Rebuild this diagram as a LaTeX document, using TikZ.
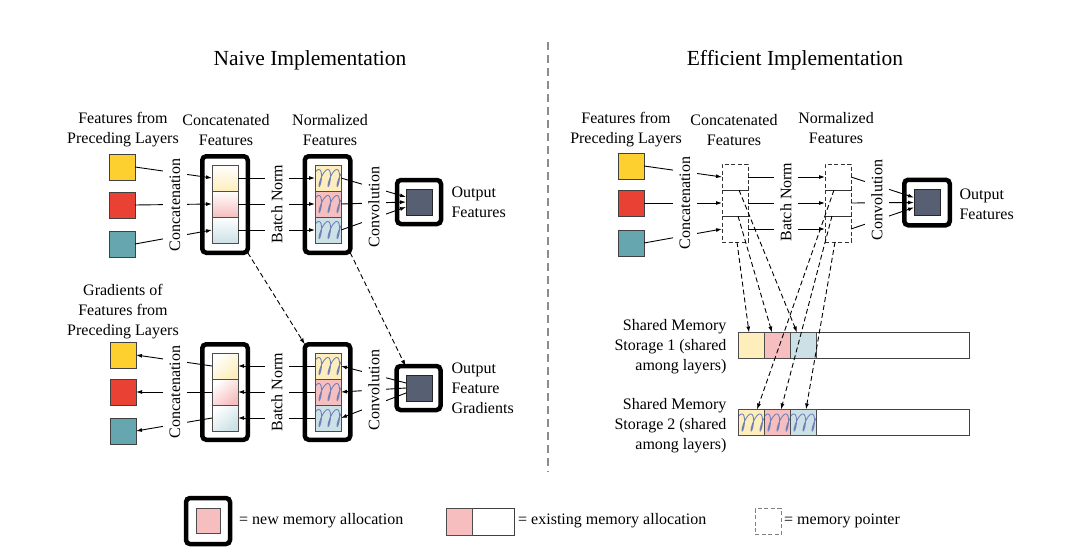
\documentclass[tikz,border=0pt]{standalone}
\usepackage{fontspec}
\setmainfont{Liberation Serif}
\usetikzlibrary{
	positioning,
	arrows.meta,
	calc
}
\definecolor{InYellow}{RGB}{253,208,48}
\definecolor{InRed}{RGB}{233,65,52}
\definecolor{InTeal}{RGB}{102,166,175}
\definecolor{OutSlate}{RGB}{87,96,115}
\definecolor{PaleYellow}{RGB}{253,238,188}
\definecolor{PalePink}{RGB}{246,190,190}
\definecolor{PaleBlue}{RGB}{204,225,230}
\definecolor{Squiggle}{RGB}{112,128,186}

\begin{document}
\begin{tikzpicture}[
	x=1pt, y=-1pt,
	font=\fontsize{16pt}{20pt}\selectfont,
	sq/.style={draw=black!75, line width=0.8pt, minimum size=26pt, inner sep=0pt, outer sep=0pt},
	cell/.style={draw=black!70, line width=0.8pt, minimum size=26pt, inner sep=0pt, outer sep=0pt},
	gradcell/.style={cell, top color=white, bottom color=#1},
	diagcell/.style={cell, top color=white, bottom color=#1, shading angle=40},
	normcell/.style={cell, fill=#1, path picture={
		\draw[Squiggle, line width=0.9pt, shift={(path picture bounding box.center)}]
		plot[domain=-15:15, samples=120, smooth, variable=\t] ({\t-3.2*sin(\t*40-50)},{8.5*sin(\t*40)});}},
	newmem/.style={draw=black, line width=4.5pt, rounded corners=4pt, inner sep=0pt, outer sep=0pt},
	ptr/.style={draw=black!80, line width=0.8pt, dash pattern=on 4pt off 2.5pt, minimum size=26pt, inner sep=0pt, outer sep=0pt},
	conn/.style={line width=0.9pt, -{Latex[length=6pt,width=4pt]}},
	ptrarrow/.style={conn, dash pattern=on 5pt off 3pt},
	oplabel/.style={rotate=90, fill=white, inner xsep=1pt, inner ysep=0pt, minimum height=24pt},
	caption/.style={align=center}
	]
	
	\useasboundingbox (0,0) rectangle (1091,559);
	
	\node (naive) at (310,60) {\fontsize{21.5pt}{24pt}\selectfont Naive Implementation};
	\node (effic) at (795,60) {\fontsize{21.5pt}{24pt}\selectfont Efficient Implementation};
	
	\coordinate (divtop) at (548,42);
	\coordinate (divbot) at (548,472);
	\draw[black!45, line width=2pt, dash pattern=on 8pt off 5pt] (divtop) -- (divbot);
	
	% naive, forward
	\node[sq, fill=InYellow] (fy) at (122,167) {};
	\node[sq, fill=InRed] (fr) at (122,205) {};
	\node[sq, fill=InTeal] (ft) at (122,244) {};
	
	\node[newmem, minimum width=45.5pt, minimum height=96.5pt] (catbox) at (225,204.5) {};
	\node[gradcell=PaleYellow] (cat1) at (225,178) {};
	\node[gradcell=PalePink, below=0pt of cat1] (cat2) {};
	\node[gradcell=PaleBlue, below=0pt of cat2] (cat3) {};
	
	\node[newmem, minimum width=45.5pt, minimum height=96.5pt] (normbox) at (327.5,204.5) {};
	\node[normcell=PaleYellow] (norm1) at (328,178) {};
	\node[normcell=PalePink, below=0pt of norm1] (norm2) {};
	\node[normcell=PaleBlue, below=0pt of norm2] (norm3) {};
	
	\node[newmem, minimum size=44pt] (outbox) at (419,202) {};
	\node[cell, fill=OutSlate, draw=black!85] (out) at (419,202) {};
	
	\draw[conn] (fy.east) -- (cat1.west);
	\draw[conn] (fr.east) -- (cat2.west);
	\draw[conn] (ft.east) -- (cat3.west);
	\draw[conn] (cat1.east) -- (norm1.west);
	\draw[conn] (cat2.east) -- (norm2.west);
	\draw[conn] (cat3.east) -- (norm3.west);
	\draw[conn] (norm1.east) -- ([yshift=5pt]out.west);
	\draw[conn] (norm2.east) -- (out.west);
	\draw[conn] (norm3.east) -- ([yshift=-5pt]out.west);
	
	\node[caption] (fromlbl) at (123,130) {Features from\\Preceding Layers};
	\node[caption] (catlbl) at (226,130) {Concatenated\\Features};
	\node[caption] (normlbl) at (330,130) {Normalized\\Features};
	\node[align=left, anchor=west] (outlbl) at (448,202) {Output\\Features};
	\node[oplabel] (concatop) at (175,205) {Concatenation};
	\node[oplabel] (bnop) at (277,204) {Batch Norm};
	\node[oplabel] (convop) at (374,207) {Convolution};
	
	% naive, backward
	\node[sq, fill=InYellow] (gy) at (123,355) {};
	\node[sq, fill=InRed] (gr) at (123,392) {};
	\node[sq, fill=InTeal] (gt) at (123,431) {};
	
	\node[newmem, minimum width=45.5pt, minimum height=95.5pt] (gcatbox) at (225,392) {};
	\node[diagcell=PaleYellow] (gcat1) at (225,366) {};
	\node[diagcell=PalePink, below=0pt of gcat1] (gcat2) {};
	\node[diagcell=PaleBlue, below=0pt of gcat2] (gcat3) {};
	
	\node[newmem, minimum width=45.5pt, minimum height=95.5pt] (gnormbox) at (327.5,392) {};
	\node[normcell=PaleYellow] (gnorm1) at (328,366) {};
	\node[normcell=PalePink, below=0pt of gnorm1] (gnorm2) {};
	\node[normcell=PaleBlue, below=0pt of gnorm2] (gnorm3) {};
	
	\node[newmem, minimum size=44pt] (goutbox) at (418.5,388) {};
	\node[cell, fill=OutSlate, draw=black!85] (gout) at (419,388) {};
	
	\draw[conn] (gcat1.west) -- (gy.east);
	\draw[conn] (gcat2.west) -- (gr.east);
	\draw[conn] (gcat3.west) -- (gt.east);
	\draw[conn] (gnorm1.west) -- (gcat1.east);
	\draw[conn] (gnorm2.west) -- (gcat2.east);
	\draw[conn] (gnorm3.west) -- (gcat3.east);
	\draw[conn] ([yshift=5pt]gout.west) -- (gnorm1.east);
	\draw[conn] (gout.west) -- (gnorm2.east);
	\draw[conn] ([yshift=-5pt]gout.west) -- (gnorm3.east);
	
	\draw[ptrarrow] (catbox.south east) -- (gnormbox.north west);
	\draw[ptrarrow] (normbox.south east) -- ([xshift=9pt]goutbox.north west);
	
	\node[caption] (gfromlbl) at (123,312) {Gradients of\\Features from\\Preceding Layers};
	\node[align=left, anchor=west] (goutlbl) at (448,388) {Output\\Feature\\Gradients};
	\node[oplabel] (gconcatop) at (175,392) {Concatenation};
	\node[oplabel] (gbnop) at (277,392) {Batch Norm};
	\node[oplabel] (gconvop) at (374,390) {Convolution};
	
	% efficient
	\node[sq, fill=InYellow] (ey) at (631,166) {};
	\node[sq, fill=InRed] (er) at (631,203) {};
	\node[sq, fill=InTeal] (et) at (631,243) {};
	
	\node[ptr] (pc1) at (735,177) {};
	\node[ptr, below=0pt of pc1] (pc2) {};
	\node[ptr, below=0pt of pc2] (pc3) {};
	
	\node[ptr] (pn1) at (838,177) {};
	\node[ptr, below=0pt of pn1] (pn2) {};
	\node[ptr, below=0pt of pn2] (pn3) {};
	
	\node[newmem, minimum size=45.5pt] (eoutbox) at (927,202.5) {};
	\node[cell, fill=OutSlate, draw=black!85] (eout) at (927,202.5) {};
	
	\node[draw=black!75, line width=0.8pt, minimum width=231pt, minimum height=26pt, inner sep=0pt, outer sep=0pt] (store1) at (853.5,345.5) {};
	\node[cell, fill=PaleYellow, anchor=west] (s1a) at (store1.west) {};
	\node[cell, fill=PalePink, right=0pt of s1a] (s1b) {};
	\node[cell, fill=PaleBlue, right=0pt of s1b] (s1c) {};
	
	\node[draw=black!75, line width=0.8pt, minimum width=231pt, minimum height=26pt, inner sep=0pt, outer sep=0pt] (store2) at (853.5,422.5) {};
	\node[normcell=PaleYellow, anchor=west] (s2a) at (store2.west) {};
	\node[normcell=PalePink, right=0pt of s2a] (s2b) {};
	\node[normcell=PaleBlue, right=0pt of s2b] (s2c) {};
	
	\draw[conn] (ey.east) -- (pc1.west);
	\draw[conn] (er.east) -- (pc2.west);
	\draw[conn] (et.east) -- (pc3.west);
	\draw[conn] (pc1.east) -- (pn1.west);
	\draw[conn] (pc2.east) -- (pn2.west);
	\draw[conn] (pc3.east) -- (pn3.west);
	\draw[conn] (pn1.east) -- ([yshift=5pt]eout.west);
	\draw[conn] (pn2.east) -- (eout.west);
	\draw[conn] (pn3.east) -- ([yshift=-5pt]eout.west);
	
	\draw[ptrarrow] ([xshift=4pt]pc1.south) -- ([xshift=-6pt]s1c.north);
	\draw[ptrarrow] ([xshift=3pt]pc2.south) -- ([xshift=-5pt]s1b.north);
	\draw[ptrarrow] ([xshift=2pt]pc3.south) -- ([xshift=-2pt]s1a.north);
	\draw[ptrarrow] ([xshift=-4pt]pn1.south) -- ([xshift=6pt]s2a.north);
	\draw[ptrarrow] ([xshift=-6pt]pn2.south) -- ([xshift=4pt]s2b.north);
	\draw[ptrarrow] ([xshift=-3pt]pn3.south) -- ([xshift=3pt]s2c.north);
	
	\node[caption] (efromlbl) at (626,130) {Features from\\Preceding Layers};
	\node[caption] (ecatlbl) at (734,130) {Concatenated\\Features};
	\node[caption] (enormlbl) at (836,128) {Normalized\\Features};
	\node[align=left, anchor=west] (eoutlbl) at (956,204) {Output\\Features};
	\node[oplabel] (econcatop) at (685,203) {Concatenation};
	\node[oplabel] (ebnop) at (786,202) {Batch Norm};
	\node[oplabel] (econvop) at (877,200) {Convolution};
	
	\node[align=right, anchor=east] (store1lbl) at (730,347) {Shared Memory\\Storage 1 (shared\\among layers)};
	\node[align=right, anchor=east] (store2lbl) at (730,426) {Shared Memory\\Storage 2 (shared\\among layers)};
	
	% legend
	\node[newmem, minimum width=44pt, minimum height=46pt] (lgnew) at (208,521) {};
	\node[cell, fill=PalePink, minimum width=24pt, minimum height=25pt] (lgnewcell) at (208,520.5) {};
	\node[anchor=west, inner sep=0pt] (lgnewlbl) at (239,521) {= new memory allocation};
	
	\node[draw=black!75, line width=0.8pt, minimum width=68pt, minimum height=27pt, inner sep=0pt, outer sep=0pt] (lgold) at (480,521.5) {};
	\node[cell, fill=PalePink, minimum height=27pt, anchor=west] (lgoldcell) at (lgold.west) {};
	\node[anchor=west, inner sep=0pt] (lgoldlbl) at (518,521) {= existing memory allocation};
	
	\node[ptr, draw=black!50] (lgptr) at (768,521.5) {};
	\node[anchor=west, inner sep=0pt] (lgptrlbl) at (784,521) {= memory pointer};
	
\end{tikzpicture}
\end{document}
